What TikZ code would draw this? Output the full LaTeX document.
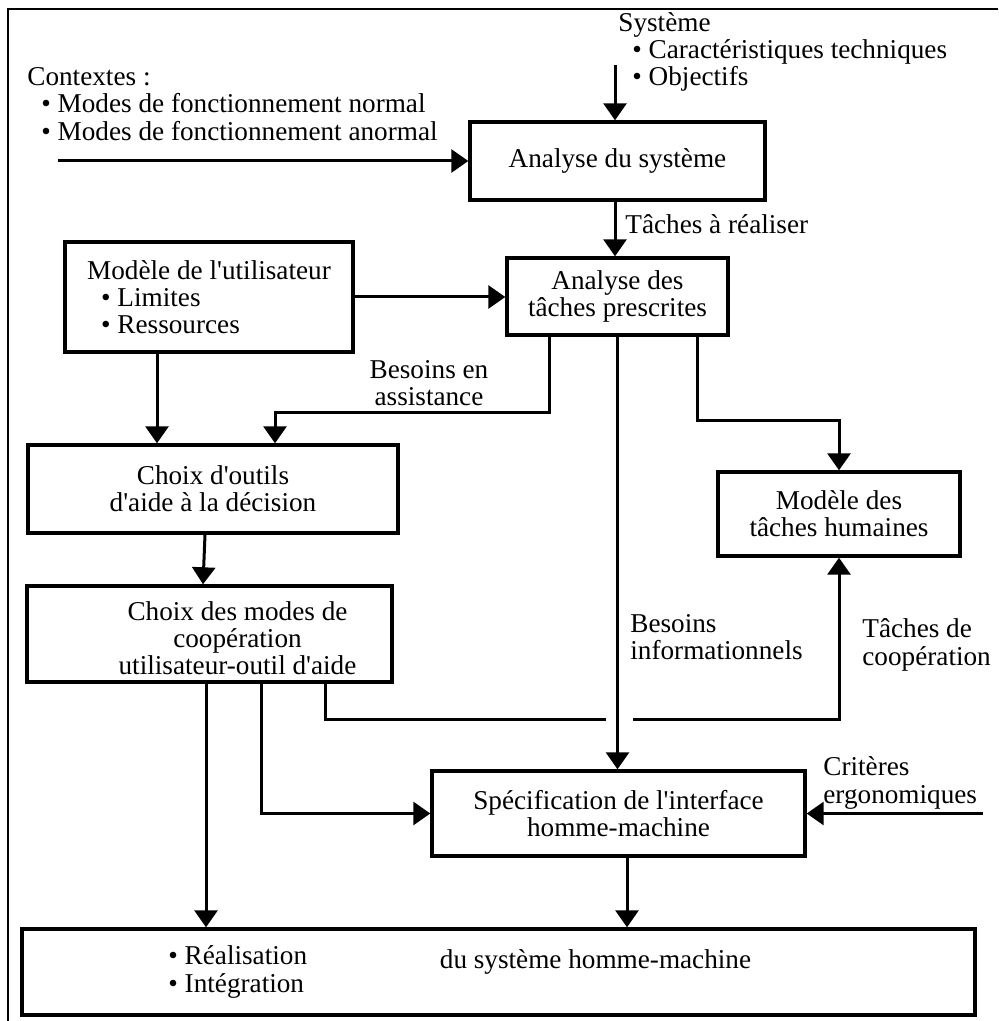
\documentclass[tikz,border=0pt]{standalone}
\usepackage{fontspec}
\setmainfont{Liberation Serif}
\usepackage{tikz}
\usetikzlibrary{positioning, arrows.meta}

\newcommand{\apos}{\textquotesingle}
\newcommand{\puce}{\hspace*{7pt}\textbullet\ }

\tikzset{
  boite/.style={draw, line width=1.7pt, align=center, inner sep=0pt},
  fleche/.style={-{Triangle[width=11.5pt,length=8.5pt]}, line width=1.5pt},
  trait/.style={line width=1.5pt},
  texte/.style={align=left, inner sep=0pt, anchor=west},
}

\begin{document}
\begin{tikzpicture}[x=0.5pt, y=-0.5pt, font=\fontsize{13.6}{13.6}\selectfont]
                \useasboundingbox (0,0) rectangle (998,1021);
                \draw[line width=1pt] (8,1021) -- (8,9) -- (998,9);
                % boites
                \node[boite, minimum width=147.5pt, minimum height=39pt] (systeme) at (617.5,161) {Analyse du système};
                \node[boite, minimum width=110.5pt, minimum height=38.5pt] (taches) at (617.5,296.5) {Analyse des\\tâches prescrites};
                \node[boite, align=left, minimum width=144pt, minimum height=55pt] (utilisateur) at (209,297) {Modèle de l\apos utilisateur\\\puce Limites\\\puce Ressources};
                \node[boite, minimum width=185pt, minimum height=44pt] (outils) at (213,489) {Choix d\apos outils\\d\apos aide à la décision};
                \node[boite, minimum width=182.5pt, minimum height=48pt,
                      label={[align=center, xshift=14pt, yshift=-2pt]center:Choix des modes de\\coopération\\utilisateur-outil d\apos aide}] (modes) at (209.5,634) {};
                \node[boite, minimum width=121pt, minimum height=42pt] (humaines) at (839,514) {Modèle des\\tâches humaines};
                \node[boite, minimum width=186.5pt, minimum height=42.5pt] (spec) at (618.5,813.5) {Spécification de l\apos interface\\homme-machine};
                \node[boite, minimum width=476.5pt, minimum height=43pt] (final) at (498.5,972) {};
                % textes
                \node[texte] (systemeTxt) at (618,52) {Système\\\puce Caractéristiques techniques\\\puce Objectifs};
                \node[texte] (contextes) at (27,104) {Contextes :\\\puce Modes de fonctionnement normal\\\puce Modes de fonctionnement anormal};
                \node[texte] (realiser) at (625,224) {Tâches à réaliser};
                \node[align=center, inner sep=0pt] (assistance) at (429,383) {Besoins en\\assistance};
                \node[texte] (info) at (630,637) {Besoins\\informationnels};
                \node[texte] (coop) at (862,645) {Tâches de\\coopération};
                \node[texte] (critere) at (823,783) {Critères\\ergonomiques};
                \node[texte] (realisation) at (168,972) {\textbullet\ Réalisation\\\textbullet\ Intégration};
                \node[inner sep=0pt] (hm) at (595.5,962) {du système homme-machine};
                % points
                \coordinate (entreeSys) at (615,65);
                \coordinate (entreeCtx) at (58,161);
                \coordinate (entreeCrit) at (983,813.5);
                \coordinate (k1) at (549,412);
                \coordinate (k2) at (275,412);
                \coordinate (k3) at (157,400);
                \coordinate (k4) at (697,420);
                \coordinate (k6) at (325,719);
                \coordinate (gauche) at (606,719);
                \coordinate (droite) at (633,719);
                \coordinate (k7) at (261,813);
                \coordinate (k8) at (206,800);
                \coordinate (k9) at (627,900);
                % fleches
                \draw[fleche] (entreeSys) -- (entreeSys |- systeme.north);
                \draw[fleche] (entreeCtx) -- (entreeCtx -| systeme.west);
                \draw[fleche] (systeme.south -| entreeSys) -- (taches.north -| entreeSys);
                \draw[fleche] (utilisateur.east) -- (utilisateur.east -| taches.west);
                \draw[fleche] (taches.south -| k1) -- (k1) -- (k2) -- (k2 |- outils.north);
                \draw[fleche] (utilisateur.south -| k3) -- (outils.north -| k3);
                \draw[fleche] ([xshift=-4pt]outils.south) -- ([xshift=-3.25pt]modes.north);
                \draw[fleche] (taches.south -| k4) -- (k4) -| (humaines.north);
                \draw[fleche] (taches.south) -- (taches.south |- spec.north);
                \draw[trait] (modes.south -| k6) -- (k6) -- (gauche);
                \draw[fleche] (droite) -| (humaines.south);
                \draw[fleche] (modes.south -| k7) |- (spec.west);
                \draw[fleche] (modes.south -| k8) -- (final.north -| k8);
                \draw[fleche] (spec.south -| k9) -- (final.north -| k9);
                \draw[fleche] (entreeCrit) -- (entreeCrit -| spec.east);
            \end{tikzpicture}
\end{document}
